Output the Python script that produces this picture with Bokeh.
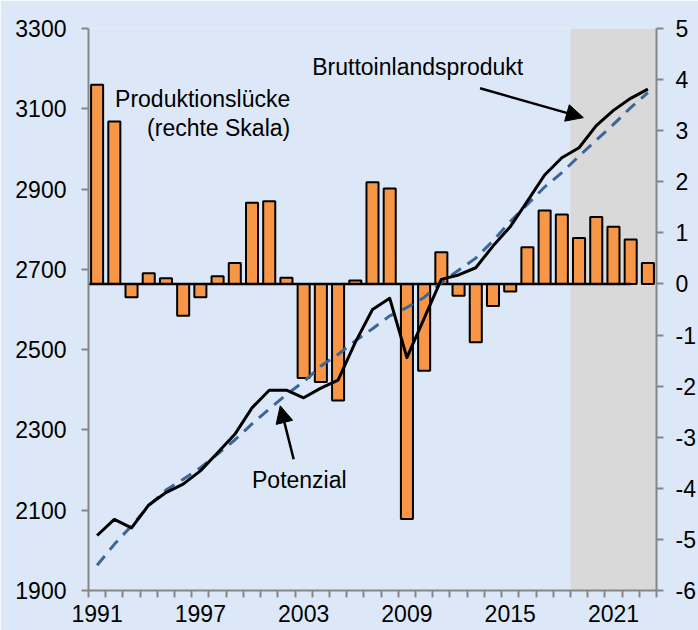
from bokeh.plotting import figure
from bokeh.models import (Range1d, LinearAxis, FixedTicker, BoxAnnotation,
                          Label, Arrow, NormalHead)
from bokeh.embed import file_html
from bokeh.resources import INLINE

# ---------------- data ----------------
years = list(range(1991, 2024))
# Produktionslücke in Prozent (rechte Skala)
gap = [3.90, 3.18, -0.26, 0.21, 0.11, -0.62, -0.26, 0.15, 0.41, 1.59,
       1.62, 0.12, -1.84, -1.92, -2.28, 0.07, 1.99, 1.87, -4.60, -1.70,
       0.62, -0.23, -1.14, -0.43, -0.15, 0.72, 1.44, 1.36, 0.90, 1.31,
       1.12, 0.87, 0.41]
# Bruttoinlandsprodukt, Mrd. Euro
gdp = [2037, 2077, 2056, 2113, 2144, 2165, 2198, 2243, 2289, 2355,
       2399, 2399, 2380, 2404, 2424, 2518, 2600, 2628, 2480, 2578,
       2675, 2686, 2704, 2758, 2806, 2870, 2935, 2978, 3003, 3058,
       3096, 3126, 3149]
# Potenzial, Mrd. Euro
potential = [1963, 2015, 2061, 2111, 2150, 2177, 2206, 2240, 2275, 2315,
             2352, 2388, 2420, 2459, 2488, 2522, 2552, 2584, 2605, 2630,
             2667, 2698, 2728, 2771, 2819, 2862, 2905, 2941, 2982, 3022,
             3061, 3103, 3140]
left_ticks = [1900, 2100, 2300, 2500, 2700, 2900, 3100, 3300]
right_ticks = [-6, -5, -4, -3, -2, -1, 0, 1, 2, 3, 4, 5]
x_label_years = [1991, 1997, 2003, 2009, 2015, 2021]
forecast_start = 2019

FONT = "Liberation Sans"
BG = "#dce8f7"
AXIS_GREY = "#868686"
FS = "23px"

p = figure(width=698, height=630,
           x_range=Range1d(years[0] - 0.5, years[-1] + 0.5),
           y_range=Range1d(1900, 3300),
           output_backend="svg", toolbar_location=None,
           min_border_left=88, min_border_right=42,
           min_border_top=28, min_border_bottom=40,
           background_fill_color=BG, border_fill_color=BG,
           outline_line_color=None)
p.extra_y_ranges = {"pct": Range1d(-6, 5)}
p.grid.visible = False

# forecast shading
p.add_layout(BoxAnnotation(left=forecast_start - 0.5, right=years[-1] + 0.5,
                           fill_color="#d9d9d9", fill_alpha=1.0,
                           line_color=None, level="underlay"))

# ---- axes ----
xa = p.xaxis[0]
xa.ticker = FixedTicker(ticks=x_label_years,
                        minor_ticks=[y - 0.5 for y in years] + [years[-1] + 0.5])
xa.major_tick_out = 0
xa.major_tick_in = 0
xa.minor_tick_out = 7
xa.minor_tick_in = 0
xa.minor_tick_line_color = AXIS_GREY
xa.minor_tick_line_width = 2
xa.axis_line_color = AXIS_GREY
xa.axis_line_width = 2
xa.major_label_standoff = 7
xa.major_label_text_font = FONT
xa.major_label_text_font_size = FS
xa.major_label_text_color = "black"

ya = p.yaxis[0]
ya.ticker = FixedTicker(ticks=left_ticks)
ya.major_tick_out = 7
ya.major_tick_in = 0
ya.minor_tick_out = 0
ya.minor_tick_in = 0
ya.major_tick_line_color = AXIS_GREY
ya.major_tick_line_width = 2
ya.axis_line_color = AXIS_GREY
ya.axis_line_width = 2
ya.major_label_standoff = 15
ya.major_label_text_font = FONT
ya.major_label_text_font_size = FS
ya.major_label_text_color = "black"

ra = LinearAxis(y_range_name="pct", ticker=FixedTicker(ticks=right_ticks))
ra.major_tick_out = 7
ra.major_tick_in = 0
ra.minor_tick_out = 0
ra.minor_tick_in = 0
ra.major_tick_line_color = AXIS_GREY
ra.major_tick_line_width = 2
ra.axis_line_color = AXIS_GREY
ra.axis_line_width = 2
ra.major_label_standoff = 12
ra.major_label_text_font = FONT
ra.major_label_text_font_size = FS
ra.major_label_text_color = "black"
ra.major_label_overrides = {v: "%d" % v for v in right_ticks}
p.add_layout(ra, "right")

# ---- bars (output gap) ----
p.vbar(x=years, width=0.7, bottom=0, top=gap, y_range_name="pct",
       fill_color="#f79646", line_color="black", line_width=2)
# zero line
p.segment(x0=[years[0] - 0.5], y0=[0], x1=[years[-2]], y1=[0],
          y_range_name="pct", line_color="black", line_width=2.5)

# ---- lines ----
p.line(years, potential, line_color="#3c6699", line_width=3, line_dash="12 8")
p.line(years, gdp, line_color="black", line_width=3, line_join="round")

# ---- annotations ----
def lab(x, y, text, align="left"):
    p.add_layout(Label(x=x, y=y, text=text, text_font=FONT,
                       text_font_size=FS, text_color="black",
                       text_align=align, text_baseline="middle"))

lab(1990.56, 3327, "Mrd. Euro")
lab(2023.27, 3327, "Prozent", "right")
lab(2002.22, 3124, "Produktionslücke", "right")
lab(2002.22, 3052, "(rechte Skala)", "right")
lab(2003.5, 3204, "Bruttoinlandsprodukt")
lab(2000.0, 2176, "Potenzial")

p.add_layout(Arrow(end=NormalHead(size=17, fill_color="black", line_color="black"),
                   x_start=2013.25, y_start=3151, x_end=2019.25, y_end=3078,
                   line_color="black", line_width=2.5))
p.add_layout(Arrow(end=NormalHead(size=17, fill_color="black", line_color="black"),
                   x_start=2002.42, y_start=2227, x_end=2001.64, y_end=2360,
                   line_color="black", line_width=2.5))

html = file_html(p, INLINE)
html = html.replace("<body>", '<body style="background-color:%s">' % BG, 1)
open("out.html", "w").write(html)
